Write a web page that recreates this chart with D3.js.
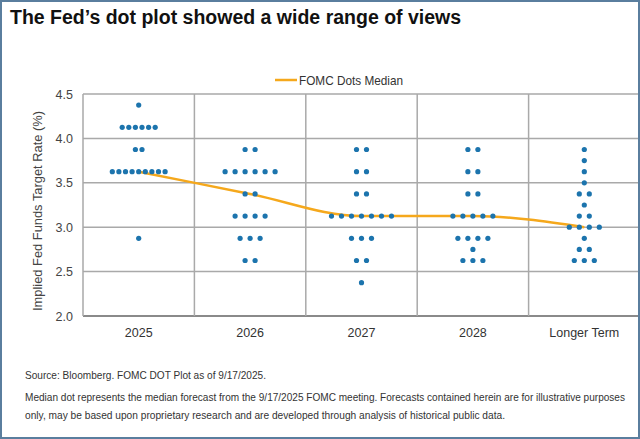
<!DOCTYPE html>
<html>
<head>
<meta charset="utf-8">
<script src="https://cdn.jsdelivr.net/npm/d3@7"></script>
<style>
  html, body { margin: 0; padding: 0; background: #fff; }
  svg { display: block; }
  .narrow { font-family: "Liberation Sans Narrow", "Arial Narrow", "Liberation Sans", sans-serif; }
</style>
</head>
<body>
<svg id="chart" width="640" height="439"></svg>
<script>
// categories along x
const categories = ["2025", "2026", "2027", "2028", "Longer Term"];
// each participant's dot: [rate, count]
const dots2025 = [[4.375, 1], [4.125, 6], [3.875, 2], [3.625, 9], [2.875, 1]];
const dots2026 = [[3.875, 2], [3.625, 6], [3.375, 2], [3.125, 4], [2.875, 3], [2.625, 2]];
const dots2027 = [[3.875, 2], [3.625, 2], [3.375, 2], [3.125, 7], [2.875, 3], [2.625, 2], [2.375, 1]];
const dots2028 = [[3.875, 2], [3.625, 2], [3.375, 2], [3.125, 5], [2.875, 4], [2.75, 1], [2.625, 3]];
const dotsLonger = [[3.875, 1], [3.75, 1], [3.625, 1], [3.5, 1], [3.375, 2], [3.25, 1], [3.125, 2], [3.0, 4], [2.875, 1], [2.75, 2], [2.625, 3]];
const medians = [3.625, 3.375, 3.125, 3.125, 3.0];
const yTicks = [2.0, 2.5, 3.0, 3.5, 4.0, 4.5];

const allDots = [dots2025, dots2026, dots2027, dots2028, dotsLonger];

const svg = d3.select("#chart");
const W = 640, H = 439;

// outer frame
svg.append("rect")
  .attr("x", 1).attr("y", 1)
  .attr("width", W - 2).attr("height", H - 2)
  .attr("fill", "#fff")
  .attr("stroke", "#5a7e9e")
  .attr("stroke-width", 2);

svg.append("text")
  .attr("x", 10).attr("y", 24)
  .attr("font-family", "Liberation Sans, Arial, sans-serif")
  .attr("font-weight", "bold")
  .attr("font-size", 19.5)
  .attr("fill", "#111")
  .text("The Fed\u2019s dot plot showed a wide range of views");

const x = d3.scaleBand().domain(categories).range([83, 640]);
const y = d3.scaleLinear().domain([2, 4.5]).range([316, 94]);

const g = svg.append("g");

// horizontal gridlines
g.selectAll(".hgrid")
  .data(yTicks)
  .enter()
  .append("line")
  .attr("x1", 83).attr("x2", 638)
  .attr("y1", d => y(d)).attr("y2", d => y(d))
  .attr("stroke", d => d === 2 ? "#8a8a8a" : "#a9a9a9")
  .attr("stroke-width", d => d === 2 ? 2 : 1.5);

// vertical gridlines at band edges
g.selectAll(".vgrid")
  .data(categories)
  .enter()
  .append("line")
  .attr("x1", d => x(d)).attr("x2", d => x(d))
  .attr("y1", y(4.5)).attr("y2", y(2))
  .attr("stroke", "#a9a9a9")
  .attr("stroke-width", 1.5);

// y tick labels
g.selectAll(".ylab")
  .data(yTicks)
  .enter()
  .append("text")
  .attr("class", "narrow")
  .attr("x", 73)
  .attr("y", d => y(d) + 4.5)
  .attr("text-anchor", "end")
  .attr("font-size", 12.5)
  .attr("fill", "#444")
  .text(d => d.toFixed(1));

// y axis title
svg.append("text")
  .attr("class", "narrow")
  .attr("transform", `translate(42,${y(3.25) + 6}) rotate(-90)`)
  .attr("text-anchor", "middle")
  .attr("font-size", 13)
  .attr("textLength", 200)
  .attr("lengthAdjust", "spacingAndGlyphs")
  .attr("fill", "#444")
  .text("Implied Fed Funds Target Rate (%)");

// x labels
g.selectAll(".xlab")
  .data(categories)
  .enter()
  .append("text")
  .attr("class", "narrow")
  .attr("x", d => x(d) + x.bandwidth() / 2)
  .attr("y", 337)
  .attr("text-anchor", "middle")
  .attr("font-size", 12.5)
  .attr("fill", "#333")
  .text(d => d);

// median line
const line = d3.line()
  .x((d, i) => x(categories[i]) + x.bandwidth() / 2)
  .y(d => y(d))
  .curve(d3.curveMonotoneX);

g.append("path")
  .datum(medians)
  .attr("d", line)
  .attr("fill", "none")
  .attr("stroke", "#f5a81c")
  .attr("stroke-width", 2.5);

// dots
allDots.forEach((rows, ci) => {
  const cx = x(categories[ci]) + x.bandwidth() / 2;
  const step = ci === 0 ? 6.6 : 10;
  const pts = [];
  rows.forEach(([rate, n]) => {
    for (let k = 0; k < n; k++) {
      pts.push({ x: cx + (k - (n - 1) / 2) * step, rate });
    }
  });
  g.selectAll(null)
    .data(pts)
    .enter()
    .append("circle")
    .attr("cx", d => d.x)
    .attr("cy", d => y(d.rate))
    .attr("r", 2.6)
    .attr("fill", "#1c74ad");
});

// legend
svg.append("line")
  .attr("x1", 275).attr("x2", 297)
  .attr("y1", 80).attr("y2", 80)
  .attr("stroke", "#f5a81c")
  .attr("stroke-width", 2.5);
svg.append("text")
  .attr("class", "narrow")
  .attr("x", 299).attr("y", 85)
  .attr("font-size", 13)
  .attr("textLength", 104)
  .attr("lengthAdjust", "spacingAndGlyphs")
  .attr("fill", "#333")
  .text("FOMC Dots Median");

// footnotes
const notes = [
  [25, 379, 241, "Source: Bloomberg. FOMC DOT Plot as of 9/17/2025."],
  [25, 401, 600, "Median dot represents the median forecast from the 9/17/2025 FOMC meeting. Forecasts contained herein are for illustrative purposes"],
  [25, 419, 480, "only, may be based upon proprietary research and are developed through analysis of historical public data."]
];
svg.selectAll(".note")
  .data(notes)
  .enter()
  .append("text")
  .attr("class", "narrow")
  .attr("x", d => d[0]).attr("y", d => d[1])
  .attr("font-size", 10.2)
  .attr("textLength", d => d[2])
  .attr("lengthAdjust", "spacingAndGlyphs")
  .attr("fill", "#333")
  .text(d => d[3]);
</script>
</body>
</html>
